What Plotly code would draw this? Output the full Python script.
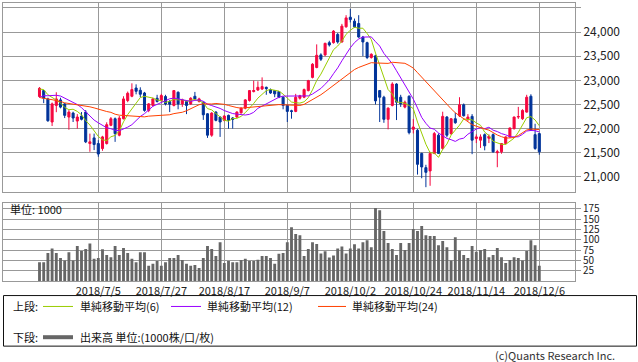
import pandas as pd
import plotly.graph_objects as go

dates = [
    "2018/6/15", "2018/6/18", "2018/6/19", "2018/6/20", "2018/6/21", "2018/6/22", "2018/6/25", "2018/6/26",
    "2018/6/27", "2018/6/28", "2018/6/29", "2018/7/2", "2018/7/3", "2018/7/4", "2018/7/5", "2018/7/6",
    "2018/7/9", "2018/7/10", "2018/7/11", "2018/7/12", "2018/7/13", "2018/7/17", "2018/7/18", "2018/7/19",
    "2018/7/20", "2018/7/23", "2018/7/24", "2018/7/25", "2018/7/26", "2018/7/27", "2018/7/30", "2018/7/31",
    "2018/8/1", "2018/8/2", "2018/8/3", "2018/8/6", "2018/8/7", "2018/8/8", "2018/8/9", "2018/8/10",
    "2018/8/13", "2018/8/14", "2018/8/15", "2018/8/16", "2018/8/17", "2018/8/20", "2018/8/21", "2018/8/22",
    "2018/8/23", "2018/8/24", "2018/8/27", "2018/8/28", "2018/8/29", "2018/8/30", "2018/8/31", "2018/9/3",
    "2018/9/4", "2018/9/5", "2018/9/6", "2018/9/7", "2018/9/10", "2018/9/11", "2018/9/12", "2018/9/13",
    "2018/9/14", "2018/9/18", "2018/9/19", "2018/9/20", "2018/9/21", "2018/9/25", "2018/9/26", "2018/9/27",
    "2018/9/28", "2018/10/1", "2018/10/2", "2018/10/3", "2018/10/4", "2018/10/5", "2018/10/9", "2018/10/10",
    "2018/10/11", "2018/10/12", "2018/10/15", "2018/10/16", "2018/10/17", "2018/10/18", "2018/10/19", "2018/10/22",
    "2018/10/23", "2018/10/24", "2018/10/25", "2018/10/26", "2018/10/29", "2018/10/30", "2018/10/31", "2018/11/1",
    "2018/11/2", "2018/11/5", "2018/11/6", "2018/11/7", "2018/11/8", "2018/11/9", "2018/11/12", "2018/11/13",
    "2018/11/14", "2018/11/15", "2018/11/16", "2018/11/19", "2018/11/20", "2018/11/21", "2018/11/22", "2018/11/26",
    "2018/11/27", "2018/11/28", "2018/11/29", "2018/11/30", "2018/12/3", "2018/12/4", "2018/12/5", "2018/12/6",
]

open_ = [
    22664, 22788, 22615, 22136, 22480, 22595, 22512, 22240, 22321, 22157,
    22260, 22342, 21690, 21807, 21690, 21587, 21690, 22068, 22204, 21863,
    22204, 22582, 22670, 22841, 22794, 22738, 22377, 22480, 22629, 22582,
    22664, 22562, 22480, 22753, 22512, 22562, 22512, 22670, 22562, 22547,
    22307, 21863, 22342, 22239, 22171, 22274, 22220, 22240, 22327, 22424,
    22582, 22767, 22800, 22820, 22855, 22808, 22788, 22767, 22650, 22480,
    22370, 22356, 22629, 22650, 22788, 23061, 23266, 23527, 23527, 23780,
    23780, 23951, 23795, 24109, 24308, 24226, 24177, 23897, 23780, 23472,
    23507, 22788, 22650, 22192, 22480, 22923, 22650, 22445, 22670, 21986,
    21966, 21485, 21191, 21123, 21485, 21863, 21588, 22239, 21896, 22204,
    22266, 22492, 22192, 22253, 21793, 21760, 21875, 21800, 21875, 21500,
    21520, 21690, 21828, 21999, 22239, 22204, 22342, 22670, 21875, 21896,
]
high = [
    22860, 22800, 22640, 22540, 22753, 22640, 22530, 22383, 22350, 22300,
    22342, 22383, 21896, 21896, 21760, 21850, 22130, 22240, 22230, 22260,
    22670, 22767, 22938, 22917, 22856, 22760, 22530, 22640, 22700, 22720,
    22700, 22590, 22800, 22770, 22620, 22580, 22650, 22760, 22640, 22560,
    22320, 22340, 22360, 22250, 22280, 22290, 22240, 22360, 22440, 22610,
    22800, 22993, 22980, 23061, 22870, 22830, 22800, 22780, 22670, 22500,
    22390, 22720, 22700, 22830, 23010, 23356, 23745, 23560, 23780, 23820,
    24040, 23980, 24170, 24350, 24479, 24280, 24350, 23920, 23800, 23560,
    23530, 22800, 22680, 22440, 22960, 22940, 22700, 22580, 22690, 22200,
    21990, 21500, 21250, 21520, 21930, 21900, 22350, 22260, 22220, 22330,
    22650, 22520, 22300, 22300, 21880, 21880, 21900, 21880, 21900, 21560,
    21700, 21840, 22020, 22250, 22450, 22400, 22700, 22711, 22100, 21910,
]
low = [
    22640, 22527, 22140, 22054, 22340, 22420, 22218, 21978, 22136, 21999,
    22170, 21700, 21520, 21555, 21417, 21540, 21670, 22050, 21725, 21840,
    22190, 22547, 22650, 22710, 22650, 22350, 22340, 22460, 22540, 22560,
    22480, 22342, 22460, 22400, 22450, 22300, 22490, 22600, 22540, 22180,
    21807, 21830, 22150, 21828, 22150, 21998, 22000, 22220, 22310, 22400,
    22560, 22750, 22780, 22800, 22700, 22720, 22650, 22630, 22400, 22136,
    22205, 22340, 22600, 22630, 22770, 23040, 23250, 23400, 23500, 23700,
    23760, 23760, 23780, 24090, 24200, 24090, 23880, 23500, 23440, 23450,
    22500, 22136, 22120, 21985, 22460, 22177, 22450, 22420, 21880, 21900,
    21047, 20971, 20786, 20815, 21470, 21480, 21560, 21820, 21870, 22100,
    22240, 22250, 22150, 21470, 21700, 21600, 21550, 21700, 21500, 21200,
    21480, 21670, 21810, 21980, 22200, 22180, 22330, 21950, 21560, 21458,
]
close = [
    22835, 22630, 22163, 22512, 22615, 22445, 22274, 22342, 22219, 22240,
    22192, 21725, 21725, 21670, 21473, 21828, 22081, 22204, 21896, 22218,
    22615, 22732, 22808, 22773, 22712, 22377, 22512, 22615, 22562, 22685,
    22512, 22506, 22788, 22512, 22595, 22480, 22629, 22615, 22615, 22286,
    21863, 22321, 22171, 22136, 22260, 22171, 22190, 22342, 22424, 22595,
    22788, 22788, 22855, 22870, 22830, 22738, 22720, 22650, 22480, 22356,
    22356, 22650, 22680, 22808, 22993, 23334, 23519, 23437, 23766, 23733,
    24020, 23795, 24123, 24294, 24259, 24109, 23897, 23795, 23472, 23540,
    22574, 22650, 22192, 22424, 22923, 22547, 22512, 22547, 21916, 22033,
    21259, 21205, 21094, 21485, 21896, 21485, 22253, 21863, 22204, 22122,
    22492, 22266, 22239, 21760, 21828, 21828, 21643, 21840, 21520, 21520,
    21690, 21828, 22013, 22239, 22250, 22377, 22650, 21966, 21588, 21520,
]
# closes of the 23 sessions before the first candle (needed for the moving averages)
prior_closes = [
    22818, 22717, 22838, 22930, 23002, 22960, 22689, 22437, 22450, 22481, 22358, 22018,
    22201, 22171, 22475, 22539, 22625, 22823, 22694, 22804, 22878, 22966, 22738,
]
volume = [
    46, 46, 68, 79, 68, 56, 50, 70, 50, 85,
    73, 78, 91, 54, 56, 77, 63, 58, 85, 63,
    80, 68, 54, 46, 70, 70, 37, 42, 49, 37,
    46, 56, 56, 63, 51, 42, 37, 39, 32, 56,
    85, 78, 61, 94, 44, 49, 46, 46, 51, 54,
    49, 49, 52, 61, 61, 56, 42, 66, 68, 94,
    130, 114, 111, 61, 78, 94, 90, 67, 72, 57,
    62, 79, 84, 67, 79, 89, 79, 94, 99, 82,
    177, 171, 121, 92, 78, 63, 92, 75, 92, 126,
    121, 133, 111, 109, 109, 87, 97, 82, 50, 106,
    74, 63, 56, 85, 71, 75, 78, 58, 63, 80,
    58, 44, 51, 58, 56, 50, 73, 99, 87, 37,
]
ma_periods = [6, 12, 24]
ma_names = ["単純移動平均(6)", "単純移動平均(12)", "単純移動平均(24)"]
ma_colors = ["#99CC00", "#9900FF", "#FF4000"]
tick_labels = ["2018/7/5", "2018/7/27", "2018/8/17", "2018/9/7", "2018/10/2", "2018/10/24", "2018/11/14", "2018/12/6"]

FONT = "Noto Sans CJK JP"
GRID = "#999999"
W, H = 638, 362

all_close = pd.Series(prior_closes + close, dtype=float)
n_prior = len(prior_closes)

fig = go.Figure()

for p, name, col in zip(ma_periods, ma_names, ma_colors):
    ma = all_close.rolling(p).mean().iloc[n_prior:].tolist()
    fig.add_trace(go.Scatter(x=dates, y=ma, mode="lines", name=name,
                             line=dict(color=col, width=1), hoverinfo="skip",
                             showlegend=False, xaxis="x", yaxis="y"))

fig.add_trace(go.Candlestick(
    x=dates, open=open_, high=high, low=low, close=close,
    increasing=dict(line=dict(color="#F5073F", width=1), fillcolor="#F5073F"),
    decreasing=dict(line=dict(color="#003399", width=1), fillcolor="#003399"),
    whiskerwidth=0, showlegend=False, xaxis="x", yaxis="y"))

fig.add_trace(go.Bar(x=dates, y=volume, marker=dict(color="#666666", line=dict(width=0)),
                     width=0.68, showlegend=False, xaxis="x2", yaxis="y2"))

def px_x(x):
    return x / W

def px_y(y):
    return 1 - y / H

xr = [-8.69, 127.5]
common_x = dict(type="category", range=xr, tickmode="array", tickvals=tick_labels,
                showgrid=True, gridcolor=GRID, gridwidth=1, showline=True, mirror=True,
                linecolor=GRID, linewidth=1, zeroline=False, fixedrange=True,
                rangeslider=dict(visible=False))

fig.update_layout(
    width=W, height=H, margin=dict(l=0, r=0, t=0, b=0),
    paper_bgcolor="white", plot_bgcolor="white",
    font=dict(family=FONT, size=11, color="#222222"),
    xaxis=dict(**common_x, domain=[px_x(3), px_x(575)], anchor="y", showticklabels=False),
    yaxis=dict(domain=[px_y(190.3), px_y(0.5)], range=[20692, 24592], side="right",
               tickvals=[21000, 21500, 22000, 22500, 23000, 23500, 24000, 24500],
               tickformat=",d", showgrid=True, gridcolor=GRID, gridwidth=1,
               showline=True, mirror=True, linecolor=GRID, linewidth=1,
               ticks="outside", ticklen=5, tickcolor=GRID, zeroline=False,
               tickfont=dict(size=12, color="#222222"), fixedrange=True),
    xaxis2=dict(**common_x, domain=[px_x(3), px_x(575)], anchor="y2", matches="x",
                showticklabels=True, ticks="", tickangle=0,
                tickfont=dict(size=11, color="#222222")),
    yaxis2=dict(domain=[px_y(280.5), px_y(202)], range=[0, 188], side="right",
                tickvals=[25, 50, 75, 100, 125, 150, 175],
                showgrid=True, gridcolor=GRID, gridwidth=1,
                showline=True, mirror=True, linecolor=GRID, linewidth=1,
                ticks="outside", ticklen=5, tickcolor=GRID, zeroline=False,
                tickfont=dict(size=10, color="#222222"), fixedrange=True),
    bargap=0.3,
)

shapes = []
annotations = []
annotations.append(dict(x=px_x(8), y=px_y(208), xref="paper", yref="paper", text="単位: 1000",
                        showarrow=False, xanchor="left", yanchor="middle",
                        font=dict(size=11, color="#111111", family=FONT)))
shapes.append(dict(type="rect", xref="paper", yref="paper", x0=px_x(3.5), x1=px_x(636.5),
                   y0=px_y(346), y1=px_y(295), line=dict(color="#111111", width=1)))
row1, row2 = 306, 337
for y, lbl in [(row1, "上段:"), (row2, "下段:")]:
    annotations.append(dict(x=px_x(11), y=px_y(y), xref="paper", yref="paper", text=lbl,
                            showarrow=False, xanchor="left", yanchor="middle",
                            font=dict(size=11, color="#111111", family=FONT)))
leg_pos = [(43, 73, 78), (171, 201, 205), (318, 346, 350)]
for (x0, x1, xt), name, col in zip(leg_pos, ma_names, ma_colors):
    shapes.append(dict(type="line", xref="paper", yref="paper", x0=px_x(x0), x1=px_x(x1),
                       y0=px_y(row1), y1=px_y(row1), line=dict(color=col, width=1)))
    annotations.append(dict(x=px_x(xt), y=px_y(row1), xref="paper", yref="paper", text=name,
                            showarrow=False, xanchor="left", yanchor="middle",
                            font=dict(size=11, color="#111111", family=FONT)))
shapes.append(dict(type="line", xref="paper", yref="paper", x0=px_x(43), x1=px_x(73),
                   y0=px_y(row2), y1=px_y(row2), line=dict(color="#666666", width=4)))
annotations.append(dict(x=px_x(78), y=px_y(row2), xref="paper", yref="paper",
                        text="出来高 単位:(1000株/口/枚)", showarrow=False,
                        xanchor="left", yanchor="middle",
                        font=dict(size=11, color="#111111", family=FONT)))
annotations.append(dict(x=px_x(617), y=px_y(355), xref="paper", yref="paper",
                        text="(c)Quants Research Inc.", showarrow=False,
                        xanchor="right", yanchor="middle",
                        font=dict(size=11, color="#333333", family=FONT)))

fig.update_layout(shapes=shapes, annotations=annotations)
fig.write_html("out.html", config={"displayModeBar": False},
               post_script="document.body.style.margin='0';document.body.style.padding='0';"
                           "document.body.style.overflow='hidden';")
